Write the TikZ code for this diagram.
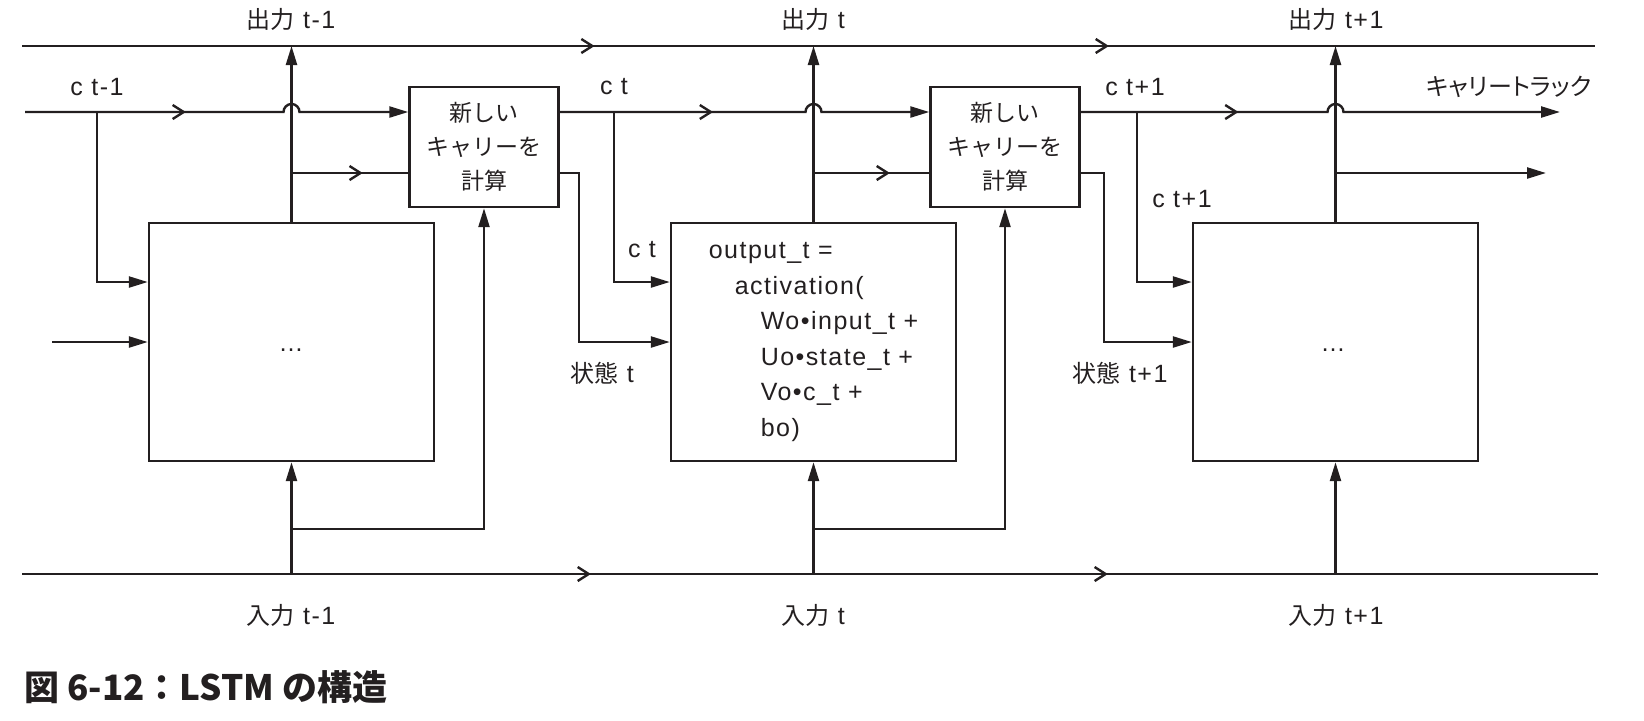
\documentclass[tikz,border=0pt]{standalone}
\usepackage{fontspec}
\setmainfont{Liberation Sans}[LetterSpace=6]
\newfontfamily\jp{Noto Sans CJK JP}
\newfontfamily\jpp{Noto Sans CJK JP}[RawFeature=+palt]
\newcommand\ja[1]{{\jp\fontsize{12}{15}\selectfont #1}}
\usetikzlibrary{arrows.meta,calc,decorations.markings}
\definecolor{ink}{RGB}{35,31,32}
\tikzset{
  chev/.tip={Straight Barb[length=5.5pt,width=7pt]},
  >={Triangle[length=9.5pt,width=5.5pt]},
  line/.style={draw=ink,line width=1.2pt},
  mid/.style={postaction={decorate,decoration={markings,mark=at position #1 with {\arrow{chev}}}}},
  cellbox/.style={line,minimum width=142.5pt,minimum height=119pt,inner sep=0pt,text=ink},
  carrybox/.style={line,minimum width=74.5pt,minimum height=60pt,inner sep=0pt,align=center,text=ink,font=\jp\fontsize{11.5}{17}\selectfont},
  lbl/.style={text=ink,inner sep=0pt,font=\fontsize{12.5}{15}\selectfont}
}
\begin{document}
\begin{tikzpicture}[x=0.5pt,y=0.5pt]
\useasboundingbox (0,0) rectangle (1644,-720);

% boxes
\node[cellbox] (cell1) at (291.5,-342) {};
\node[cellbox,align=left,font=\fontsize{12.5}{17.75}\selectfont] (cell2) at (813.5,-342) {output\_t =\\
\hspace*{13pt}activation(\\
\hspace*{26pt}Wo•input\_t +\\
\hspace*{26pt}Uo•state\_t +\\
\hspace*{26pt}Vo•c\_t +\\
\hspace*{26pt}bo)};
\node[cellbox] (cell3) at (1335.5,-342) {};
\node[carrybox] (nc1) at (484,-147) {新しい\\キャリーを\\計算};
\node[carrybox] (nc2) at (1005,-147) {新しい\\キャリーを\\計算};
\node[lbl] (dots1) at (291,-350) {…};
\node[lbl] (dots3) at (1333,-350) {…};

% ends and levels
\coordinate (oL) at (22,-46);
\coordinate (oR) at (1595,-46);
\coordinate (iL) at (22,-574);
\coordinate (iR) at (1598,-574);
\coordinate (cin) at (25,-112);
\coordinate (sin) at (52,-342);
\coordinate (cout) at (1560,-112);
\coordinate (hout) at (1546,-173);
\coordinate (hy) at (0,-173);
\coordinate (cy) at (0,-282);
\coordinate (by) at (0,-529);
\coordinate (cb1) at (97,-112);
\coordinate (cb2) at (614,-112);
\coordinate (cb3) at (1137,-112);
\coordinate (sb2) at (579,-173);
\coordinate (sb3) at (1104,-173);

% output and input lines
\draw[line,mid=0.364,mid=0.691] (oL) -- (oR);
\draw[line,mid=0.361,mid=0.689] (iL) -- (iR);

% carry track
\draw[line,->,mid=0.41] (cin) -- ($(cell1.north |- cin)+(-8,0)$) arc[start angle=180,end angle=0,radius=4pt] -- (nc1.west |- cin);
\draw[line,->,mid=0.405] (nc1.east |- cin) -- ($(cell2.north |- cin)+(-8,0)$) arc[start angle=180,end angle=0,radius=4pt] -- (nc2.west |- cin);
\draw[line,->,mid=0.323] (nc2.east |- cin) -- ($(cell3.north |- cin)+(-8,0)$) arc[start angle=180,end angle=0,radius=4pt] -- (cout);

% cell 1
\draw[line,->] (cell1.south |- iL) -- (cell1.south);
\draw[line,->] (cell1.south |- by) -| (nc1.south);
\draw[line,->] (cell1.north) -- (cell1.north |- oL);
\draw[line,mid=0.61] (cell1.north |- hy) -- (nc1.west |- hy);
\draw[line,->] (cb1) |- (cell1.west |- cy);
\draw[line,->] (sin) -- (cell1.west |- sin);

% cell 2
\draw[line,->] (cell2.south |- iL) -- (cell2.south);
\draw[line,->] (cell2.south |- by) -| (nc2.south);
\draw[line,->] (cell2.north) -- (cell2.north |- oL);
\draw[line,mid=0.66] (cell2.north |- hy) -- (nc2.west |- hy);
\draw[line,->] (cb2) |- (cell2.west |- cy);
\draw[line,->] (nc1.east |- hy) -- (sb2) |- (cell2.west |- sin);

% cell 3
\draw[line,->] (cell3.south |- iL) -- (cell3.south);
\draw[line,->] (cell3.north) -- (cell3.north |- oL);
\draw[line,->] (cell3.north |- hy) -- (hout);
\draw[line,->] (cb3) |- (cell3.west |- cy);
\draw[line,->] (nc2.east |- hy) -- (sb3) |- (cell3.west |- sin);

% labels
\node[lbl] (out1) at (291,-19) {\ja{出力} t-1};
\node[lbl] (out2) at (813,-19) {\ja{出力} t};
\node[lbl] (out3) at (1336,-19) {\ja{出力} t+1};
\node[lbl] (in1) at (291,-615) {\ja{入力} t-1};
\node[lbl] (in2) at (813,-615) {\ja{入力} t};
\node[lbl] (in3) at (1336,-615) {\ja{入力} t+1};
\node[lbl] (c1) at (97,-87) {c t-1};
\node[lbl] (c2) at (614,-87) {c t};
\node[lbl] (c3) at (1135,-87) {c t+1};
\node[lbl] (track) at (1509,-87) {{\jpp\fontsize{12}{15}\selectfont キャリートラック}};
\node[lbl] (c2b) at (642,-250) {c t};
\node[lbl] (c3b) at (1182,-199) {c t+1};
\node[lbl] (s2) at (602,-373) {\ja{状態} t};
\node[lbl] (s3) at (1120,-373) {\ja{状態} t+1};

% caption
\node[anchor=west,inner sep=0pt,text=ink,font=\jp\bfseries\fontsize{17.5}{20}\selectfont] (cap) at (24,-687) {図 6-12：LSTM の構造};
\end{tikzpicture}
\end{document}
